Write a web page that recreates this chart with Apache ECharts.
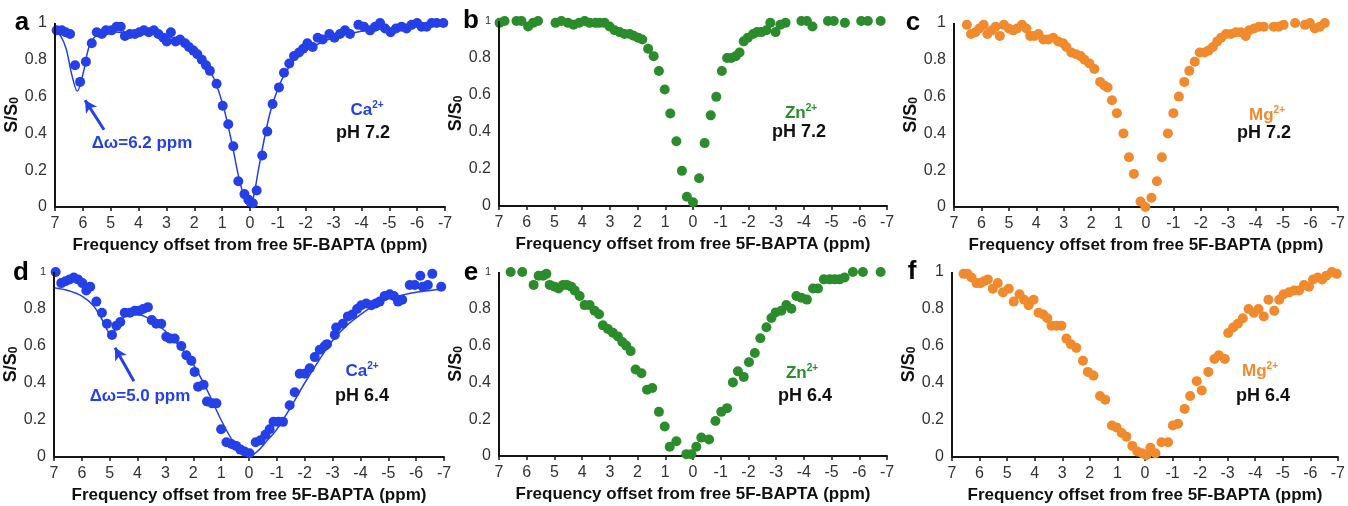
<!DOCTYPE html>
<html>
<head>
<meta charset="utf-8">
<script src="https://cdn.jsdelivr.net/npm/echarts@6/dist/echarts.min.js"></script>
</head>
<body style="margin:0">
<div id="chart" style="width:1348px;height:506px"></div>
<script>
// x ticks (ppm), y ticks
var xTicks = [7, 6, 5, 4, 3, 2, 1, 0, -1, -2, -3, -4, -5, -6, -7]
var yTicks = [0, 0.2, 0.4, 0.6, 0.8, 1]

// a: Ca2+ pH 7.2
var caPH72 = [[6.94,0.96],[6.76,0.96],[6.62,0.95],[6.46,0.94],[6.28,0.77],[6.1,0.68],[5.89,0.79],[5.68,0.89],[5.5,0.95],[5.32,0.94],[5.17,0.96],[4.97,0.96],[4.79,0.98],[4.64,0.98],[4.49,0.93],[4.31,0.94],[4.13,0.94],[3.97,0.95],[3.81,0.96],[3.63,0.95],[3.45,0.96],[3.29,0.94],[3.11,0.92],[2.99,0.9],[2.84,0.95],[2.67,0.9],[2.51,0.91],[2.33,0.89],[2.19,0.87],[2.03,0.85],[1.89,0.83],[1.73,0.8],[1.58,0.77],[1.44,0.74],[1.2,0.67],[0.98,0.55],[0.78,0.45],[0.6,0.33],[0.42,0.14],[0.2,0.07],[0.06,0.04],[-0.1,0.02],[-0.24,0.09],[-0.44,0.28],[-0.62,0.41],[-0.81,0.56],[-1.04,0.65],[-1.22,0.73],[-1.41,0.78],[-1.58,0.82],[-1.76,0.84],[-1.91,0.86],[-2.06,0.89],[-2.25,0.87],[-2.43,0.92],[-2.61,0.91],[-2.85,0.94],[-3.03,0.92],[-3.23,0.94],[-3.41,0.96],[-3.59,0.94],[-3.89,0.99],[-4.09,0.98],[-4.31,0.96],[-4.49,0.98],[-4.67,1.0],[-4.85,0.97],[-5.05,0.95],[-5.24,0.97],[-5.44,0.98],[-5.62,0.97],[-5.8,0.99],[-6.0,1.0],[-6.16,0.98],[-6.34,0.98],[-6.52,1.0],[-6.7,1.0],[-6.94,1.0]]
var caFit72 = [[7,0.955],[6.8,0.93],[6.6,0.86],[6.4,0.72],[6.2,0.63],[6.0,0.72],[5.8,0.86],[5.6,0.92],[5.3,0.945],[5,0.95],[4,0.95],[3.5,0.945],[3,0.93],[2.5,0.9],[2,0.85],[1.6,0.78],[1.3,0.7],[1.0,0.57],[0.8,0.45],[0.6,0.31],[0.4,0.16],[0.2,0.05],[0.05,0.005],[-0.1,0.04],[-0.3,0.2],[-0.5,0.36],[-0.7,0.5],[-0.9,0.6],[-1.2,0.71],[-1.6,0.8],[-2,0.85],[-2.5,0.89],[-3,0.92],[-4,0.955],[-5,0.97],[-6,0.985],[-7,0.99]]

// b: Zn2+ pH 7.2
var znPH72 = [[6.98,0.99],[6.8,1.0],[6.56,1.02],[6.37,1.0],[6.19,1.0],[5.95,0.97],[5.77,0.99],[5.59,1.0],[5.41,1.01],[5.29,1.02],[4.96,0.99],[4.75,1.0],[4.51,0.99],[4.31,0.98],[4.11,0.99],[3.91,1.0],[3.73,0.99],[3.52,0.99],[3.37,0.99],[3.19,0.99],[3.01,0.97],[2.83,0.95],[2.65,0.94],[2.47,0.93],[2.28,0.93],[2.14,0.92],[1.98,0.91],[1.83,0.9],[1.62,0.85],[1.42,0.81],[1.23,0.73],[1.02,0.63],[0.82,0.5],[0.6,0.35],[0.4,0.19],[0.22,0.05],[0.0,0.02],[-0.22,0.15],[-0.42,0.34],[-0.64,0.49],[-0.84,0.59],[-1.04,0.73],[-1.23,0.8],[-1.38,0.8],[-1.54,0.81],[-1.68,0.83],[-1.83,0.89],[-1.98,0.91],[-2.17,0.93],[-2.31,0.94],[-2.47,0.94],[-2.65,0.95],[-2.79,0.99],[-2.98,0.94],[-3.15,0.98],[-3.34,0.99],[-3.91,1.0],[-4.11,1.0],[-4.31,0.97],[-4.87,1.0],[-5.08,1.0],[-5.48,0.99],[-5.71,1.01],[-6.07,1.0],[-6.31,1.0],[-6.77,1.0]]

// c: Mg2+ pH 7.2
var mgPH72 = [[6.82,1.02],[6.68,1.01],[6.53,0.99],[6.38,0.94],[6.22,0.95],[6.08,0.97],[5.92,0.99],[5.78,0.94],[5.62,0.96],[5.48,0.98],[5.33,0.93],[5.18,0.99],[5.0,0.97],[4.84,0.96],[4.7,0.97],[4.52,0.99],[4.36,0.97],[4.22,0.93],[4.07,0.93],[3.92,0.94],[3.74,0.91],[3.56,0.91],[3.38,0.92],[3.2,0.9],[3.02,0.89],[2.9,0.87],[2.72,0.84],[2.54,0.83],[2.38,0.82],[2.24,0.8],[2.06,0.78],[1.88,0.75],[1.67,0.68],[1.52,0.66],[1.4,0.65],[1.24,0.58],[1.06,0.51],[0.82,0.4],[0.62,0.27],[0.44,0.18],[0.2,0.03],[0.02,0.0],[-0.2,0.05],[-0.4,0.14],[-0.58,0.27],[-0.8,0.4],[-1.0,0.51],[-1.2,0.6],[-1.4,0.68],[-1.58,0.74],[-1.78,0.79],[-1.96,0.84],[-2.14,0.84],[-2.28,0.85],[-2.44,0.87],[-2.6,0.9],[-2.74,0.92],[-2.92,0.94],[-3.1,0.94],[-3.28,0.95],[-3.46,0.95],[-3.64,0.93],[-3.76,0.96],[-3.94,0.97],[-4.12,0.98],[-4.3,0.98],[-4.48,1.01],[-4.66,0.98],[-4.84,0.98],[-5.02,0.99],[-5.26,1.02],[-5.44,1.0],[-5.62,1.01],[-5.8,0.99],[-5.98,1.0],[-6.16,0.97],[-6.34,0.98],[-6.52,1.0],[-6.7,1.01],[-6.88,1.01]]

// d: Ca2+ pH 6.4
var caPH64 = [[6.94,1.0],[6.74,0.94],[6.59,0.95],[6.44,0.96],[6.29,0.97],[6.14,0.96],[5.98,0.94],[5.84,0.9],[5.7,0.92],[5.48,0.84],[5.28,0.78],[5.1,0.72],[4.92,0.66],[4.76,0.71],[4.62,0.73],[4.46,0.78],[4.28,0.78],[4.1,0.79],[3.95,0.79],[3.8,0.8],[3.63,0.81],[3.49,0.74],[3.33,0.72],[3.15,0.72],[2.97,0.65],[2.83,0.64],[2.67,0.64],[2.43,0.6],[2.25,0.55],[2.07,0.52],[1.95,0.46],[1.83,0.38],[1.63,0.39],[1.51,0.3],[1.32,0.29],[1.17,0.29],[1.0,0.15],[0.81,0.08],[0.63,0.07],[0.46,0.06],[0.31,0.04],[0.16,0.03],[-0.02,0.02],[-0.24,0.08],[-0.41,0.09],[-0.59,0.12],[-0.74,0.15],[-0.88,0.19],[-1.05,0.19],[-1.22,0.19],[-1.46,0.28],[-1.64,0.35],[-1.82,0.45],[-2.0,0.45],[-2.18,0.48],[-2.36,0.54],[-2.54,0.58],[-2.72,0.6],[-2.8,0.61],[-3.08,0.66],[-3.13,0.7],[-3.37,0.72],[-3.55,0.76],[-3.71,0.77],[-3.88,0.8],[-4.03,0.82],[-4.21,0.83],[-4.39,0.82],[-4.55,0.83],[-4.69,0.84],[-4.87,0.87],[-5.05,0.88],[-5.2,0.87],[-5.35,0.84],[-5.5,0.85],[-5.77,0.93],[-5.95,0.93],[-6.15,0.98],[-6.24,0.92],[-6.42,0.93],[-6.58,0.99],[-6.75,1.02],[-6.9,0.92]]
var caFit64 = [[7,0.915],[6.5,0.9],[6,0.87],[5.6,0.82],[5.3,0.75],[5.1,0.69],[4.95,0.655],[4.8,0.69],[4.6,0.74],[4.3,0.77],[4,0.77],[3.5,0.74],[3,0.68],[2.5,0.6],[2,0.5],[1.5,0.36],[1,0.2],[0.6,0.09],[0.3,0.03],[0,0.005],[-0.3,0.03],[-0.6,0.08],[-1,0.15],[-1.5,0.27],[-2,0.4],[-2.5,0.52],[-3,0.63],[-3.5,0.71],[-4,0.77],[-4.5,0.82],[-5,0.855],[-5.5,0.875],[-6,0.89],[-6.5,0.9],[-7,0.91]]

// e: Zn2+ pH 6.4
var znPH64 = [[6.58,1.0],[6.16,1.0],[6.01,1.01],[5.92,1.03],[5.75,0.93],[5.57,0.98],[5.41,0.98],[5.29,0.99],[5.17,0.93],[4.99,0.92],[4.85,0.91],[4.69,0.93],[4.55,0.93],[4.39,0.92],[4.27,0.9],[4.09,0.87],[3.91,0.82],[3.73,0.82],[3.55,0.79],[3.39,0.77],[3.25,0.71],[3.07,0.69],[2.89,0.67],[2.71,0.65],[2.55,0.62],[2.41,0.6],[2.25,0.57],[2.07,0.47],[1.86,0.45],[1.66,0.36],[1.47,0.37],[1.23,0.24],[1.02,0.16],[0.84,0.05],[0.6,0.08],[0.24,0.01],[0.06,0.01],[-0.12,0.05],[-0.3,0.1],[-0.58,0.09],[-0.81,0.19],[-1.02,0.24],[-1.23,0.26],[-1.44,0.4],[-1.62,0.46],[-1.83,0.43],[-2.02,0.51],[-2.23,0.56],[-2.43,0.64],[-2.65,0.7],[-2.83,0.75],[-2.98,0.78],[-3.19,0.79],[-3.37,0.82],[-3.55,0.8],[-3.73,0.87],[-3.91,0.86],[-4.11,0.85],[-4.33,0.91],[-4.51,0.91],[-4.72,0.96],[-4.93,0.96],[-5.11,0.96],[-5.29,0.96],[-5.47,0.97],[-5.59,1.02],[-5.77,1.0],[-5.95,1.01],[-6.13,1.0],[-6.77,1.0]]

// f: Mg2+ pH 6.4
var mgPH64 = [[6.74,1.02],[6.58,0.99],[6.44,0.99],[6.29,0.97],[6.11,0.94],[5.96,0.94],[5.84,0.95],[5.7,0.96],[5.52,0.91],[5.34,0.94],[5.15,0.89],[4.94,0.91],[4.76,0.84],[4.55,0.88],[4.38,0.85],[4.22,0.82],[4.04,0.85],[3.86,0.78],[3.69,0.77],[3.54,0.75],[3.39,0.71],[3.21,0.71],[3.03,0.71],[2.85,0.64],[2.69,0.61],[2.49,0.59],[2.25,0.52],[2.07,0.46],[1.87,0.44],[1.63,0.33],[1.44,0.31],[1.2,0.17],[1.03,0.16],[0.84,0.13],[0.67,0.11],[0.46,0.06],[0.28,0.03],[0.1,0.02],[-0.05,0.01],[-0.2,0.05],[-0.38,0.02],[-0.6,0.08],[-0.84,0.08],[-1.01,0.17],[-1.2,0.18],[-1.44,0.26],[-1.64,0.33],[-1.88,0.41],[-2.06,0.36],[-2.3,0.46],[-2.52,0.53],[-2.68,0.55],[-2.9,0.53],[-3.02,0.67],[-3.2,0.7],[-3.37,0.72],[-3.55,0.75],[-3.76,0.8],[-3.95,0.78],[-4.12,0.8],[-4.31,0.76],[-4.48,0.85],[-4.69,0.79],[-4.87,0.85],[-5.03,0.88],[-5.23,0.89],[-5.41,0.9],[-5.59,0.9],[-5.77,0.93],[-5.95,0.92],[-6.1,0.96],[-6.27,0.97],[-6.43,0.96],[-6.58,0.98],[-6.78,1.0],[-6.96,0.99]]

// arrows: [tail, tip]
var arrowA = [[5.24, 0.42], [5.92, 0.58]]
var arrowD = [[4.13, 0.41], [4.81, 0.59]]

var BLUE = '#2440e6'
var GREEN = '#2a8c2a'
var ORANGE = '#f08a2c'
var AXIS = '#141414'
var FONT = '"Liberation Sans", Arial, sans-serif'

var panels = [
  { letter: 'a', grid: [55, 23, 390, 184], data: caPH72, fit: caFit72, color: BLUE, ion: 'Ca', ph: 'pH 7.2', ionPos: [367, 110], phPos: [363, 133], arrow: arrowA, shift: 'Δω=6.2 ppm', shiftPos: [142, 143], letterPos: [22, 23] },
  { letter: 'b', grid: [499, 21, 388, 185], data: znPH72, color: GREEN, ion: 'Zn', ph: 'pH 7.2', ionPos: [801, 113], phPos: [799, 132], small1: true, letterPos: [471, 21] },
  { letter: 'c', grid: [954, 23, 389, 184], data: mgPH72, color: ORANGE, ion: 'Mg', ph: 'pH 7.2', ionPos: [1267, 115], phPos: [1264, 133], letterPos: [913, 23] },
  { letter: 'd', grid: [54, 272, 390, 185], data: caPH64, fit: caFit64, color: BLUE, ion: 'Ca', ph: 'pH 6.4', ionPos: [362, 371], phPos: [362, 396], arrow: arrowD, shift: 'Δω=5.0 ppm', shiftPos: [140, 396], small1: true, letterPos: [21, 273] },
  { letter: 'e', grid: [499, 272, 388, 184], data: znPH64, color: GREEN, ion: 'Zn', ph: 'pH 6.4', ionPos: [802, 373], phPos: [805, 396], small1: true, letterPos: [471, 273] },
  { letter: 'f', grid: [952, 272, 390, 185], data: mgPH64, color: ORANGE, ion: 'Mg', ph: 'pH 6.4', ionPos: [1260, 371], phPos: [1263, 396], letterPos: [912, 272] }
]

var grids = [], xs = [], ys = [], ss = [], gs = []

for (var i = 0; i < panels.length; i++) {
  var p = panels[i]
  var small = !!p.small1
  grids.push({ left: p.grid[0], top: p.grid[1], width: p.grid[2], height: p.grid[3] })
  xs.push({
    type: 'value', gridIndex: i, min: -7, max: 7, interval: 1, inverse: true,
    name: 'Frequency offset from free 5F-BAPTA (ppm)', nameLocation: 'middle', nameGap: 30,
    nameTextStyle: { fontFamily: FONT, fontWeight: 'bold', fontSize: 17, color: '#111' },
    axisLine: { show: true, onZero: false, lineStyle: { color: AXIS, width: 2 } },
    axisTick: { show: true, length: 4, lineStyle: { color: AXIS, width: 1.5 } },
    axisLabel: { fontFamily: FONT, fontSize: 16, color: '#333', margin: 9,
      formatter: function (v) { return xTicks.indexOf(v) >= 0 ? String(v) : '' } },
    splitLine: { show: false }
  })
  ys.push({
    type: 'value', gridIndex: i, min: 0, max: 1, interval: 0.2,
    name: 'S/S{sub|0}', nameLocation: 'middle', nameGap: 28,
    nameTextStyle: { fontFamily: FONT, fontWeight: 'bold', fontSize: 18, color: '#111',
      rich: { sub: { fontFamily: FONT, fontWeight: 'bold', fontSize: 12, color: '#111', verticalAlign: 'bottom', lineHeight: 12 } } },
    // the left axis line itself is drawn by the markLine at x = 7 below
    axisLine: { show: false, onZero: false },
    axisTick: { show: false },
    axisLabel: { fontFamily: FONT, fontSize: 16, color: '#333', margin: 8,
      formatter: small ? function (v) {
        var r = Math.round(v * 10) / 10
        if (yTicks.indexOf(r) < 0) return ''
        return r === 1 ? '{s|1}' : String(r)
      } : function (v) {
        var r = Math.round(v * 10) / 10
        return yTicks.indexOf(r) < 0 ? '' : String(r)
      },
      rich: { s: { fontFamily: FONT, fontSize: 11, color: '#333' } } },
    splitLine: { show: false }
  })
  // scatter points + left axis line at the x = 7 edge
  ss.push({
    type: 'scatter', xAxisIndex: i, yAxisIndex: i, data: p.data,
    symbolSize: 10, itemStyle: { color: p.color, opacity: 1 },
    markLine: {
      silent: true, symbol: ['none', 'none'], label: { show: false },
      lineStyle: { color: AXIS, width: 2, type: 'solid' },
      data: [{ xAxis: 7 }]
    }
  })
  if (p.fit) {
    var fitSeries = {
      type: 'line', xAxisIndex: i, yAxisIndex: i, data: p.fit, smooth: 0.35,
      symbol: 'none', lineStyle: { color: p.color, width: 1.5 }
    }
    if (p.arrow) {
      fitSeries.markLine = {
        silent: true, symbol: ['none', 'arrow'], symbolSize: [10, 12], label: { show: false },
        lineStyle: { color: BLUE, width: 3, type: 'solid' },
        data: [[{ coord: p.arrow[0] }, { coord: p.arrow[1] }]]
      }
    }
    ss.push(fitSeries)
  }
  gs.push({
    type: 'text', x: p.letterPos[0], y: p.letterPos[1],
    style: { text: p.letter, font: 'bold 26px ' + FONT, fill: '#000', align: 'center', verticalAlign: 'middle' }
  })
  gs.push({
    type: 'text', x: p.ionPos[0], y: p.ionPos[1],
    style: { text: p.ion + '{sup|2+}', font: 'bold 17px ' + FONT, fill: p.color, align: 'center', verticalAlign: 'middle',
      rich: { sup: { font: 'bold 10px ' + FONT, fill: p.color, verticalAlign: 'top', lineHeight: 20 } } }
  })
  gs.push({
    type: 'text', x: p.phPos[0], y: p.phPos[1],
    style: { text: p.ph, font: 'bold 18px ' + FONT, fill: '#111', align: 'center', verticalAlign: 'middle' }
  })
  if (p.shift) {
    gs.push({
      type: 'text', x: p.shiftPos[0], y: p.shiftPos[1],
      style: { text: p.shift, font: 'bold 17px ' + FONT, fill: BLUE, align: 'center', verticalAlign: 'middle' }
    })
  }
}

var myChart = echarts.init(document.getElementById('chart'))
myChart.setOption({ animation: false, grid: grids, xAxis: xs, yAxis: ys, series: ss, graphic: gs })
</script>
</body>
</html>
